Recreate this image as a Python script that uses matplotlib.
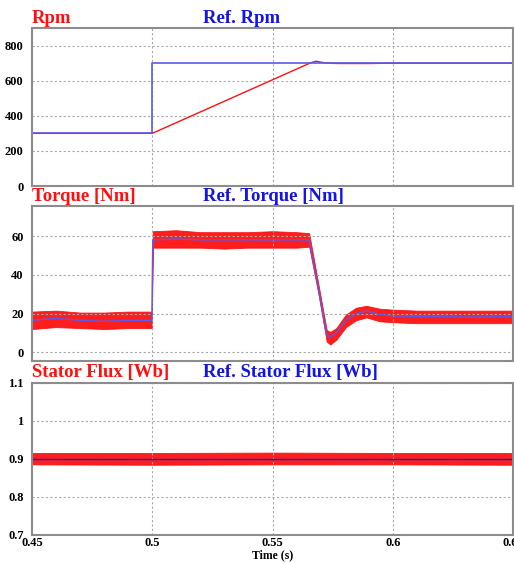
import matplotlib
matplotlib.use('Agg')
import matplotlib.pyplot as plt

# --- datos ---
t_rpm = [0.45, 0.4999, 0.5, 0.5655, 0.568, 0.5712, 0.5745, 0.5775, 0.59, 0.6, 0.65]
rpm = [300, 300, 300, 700, 711, 703, 699, 698, 698, 700, 700]
t_rpm_ref = [0.45, 0.5, 0.5, 0.65]
rpm_ref = [300, 300, 700, 700]

t_torque = [0.45, 0.46, 0.47, 0.48, 0.49, 0.4998, 0.5002, 0.51, 0.52, 0.53, 0.54,
            0.55, 0.56, 0.5652, 0.569, 0.5725, 0.574, 0.5765, 0.5805, 0.5847, 0.589,
            0.5945, 0.6, 0.61, 0.62, 0.63, 0.64, 0.65]
torque_ref = [16.5, 17.5, 16.5, 16.0, 16.5, 16.5, 58.0, 58.5, 58.0, 58.0, 58.0,
              58.0, 58.0, 58.0, 33.0, 9.0, 8.0, 10.0, 16.5, 20.0, 21.3,
              19.6, 18.8, 18.5, 18.5, 18.2, 18.3, 18.5]
torque_hi = [21.0, 21.5, 20.5, 20.5, 21.0, 21.0, 62.5, 63.0, 62.0, 62.0, 62.0,
             62.5, 62.0, 61.5, 35.5, 11.5, 10.5, 12.5, 19.5, 23.0, 24.0,
             22.5, 22.0, 21.5, 21.5, 21.5, 21.5, 21.5]
torque_lo = [12.0, 13.0, 12.5, 12.0, 12.5, 12.5, 54.0, 54.0, 54.0, 53.5, 54.0,
             54.0, 54.0, 54.5, 30.5, 5.5, 4.0, 6.5, 13.0, 16.5, 18.0,
             16.0, 15.5, 15.0, 15.0, 15.0, 15.0, 15.0]

t_flux = [0.45, 0.5, 0.55, 0.6, 0.65]
flux_ref = [0.9, 0.9, 0.9, 0.9, 0.9]
flux_hi = [0.915, 0.915, 0.916, 0.915, 0.915]
flux_lo = [0.885, 0.884, 0.885, 0.885, 0.884]

x_ticks = [0.45, 0.5, 0.55, 0.6, 0.65]
x_tick_labels = ['0.45', '0.5', '0.55', '0.6', '0.65']

ROJO = '#ff1010'
AZUL = '#1414e6'
AZUL_LINEA = '#5a5aee'
SERIF = ['Liberation Serif', 'DejaVu Serif']

fig = plt.figure(figsize=(5.14, 5.63), dpi=100)
ax1 = fig.add_axes([0.0623, 0.6696, 0.936, 0.2806])
ax2 = fig.add_axes([0.0623, 0.3588, 0.936, 0.2753])
ax3 = fig.add_axes([0.0623, 0.0503, 0.936, 0.2700])


def estilo(ax, yticks, ylabels, ylim, titulo_rojo, titulo_azul):
    ax.set_xlim(0.45, 0.65)
    ax.set_ylim(*ylim)
    ax.set_xticks(x_ticks)
    ax.set_yticks(yticks)
    ax.set_yticklabels(ylabels, family=SERIF, fontweight='bold', fontsize=9)
    ax.tick_params(length=0, pad=6)
    ax.grid(True, color='#a8a8a8', linestyle=(0, (2, 2)), linewidth=0.8)
    for s in ax.spines.values():
        s.set_color('#8c8c8c')
        s.set_linewidth(1.5)
    ax.text(0.0, 1.008, titulo_rojo, transform=ax.transAxes, color=ROJO,
            family=SERIF, fontweight='bold', fontsize=13.5, va='bottom', ha='left')
    ax.text(0.355, 1.008, titulo_azul, transform=ax.transAxes, color=AZUL,
            family=SERIF, fontweight='bold', fontsize=13.5, va='bottom', ha='left')


# --- Rpm ---
ax1.plot(t_rpm, rpm, color=ROJO, linewidth=1.0)
ax1.plot(t_rpm_ref, rpm_ref, color=AZUL_LINEA, linewidth=1.2)
estilo(ax1, [0, 200, 400, 600, 800], ['0', '200', '400', '600', '800'], (0, 900),
       'Rpm', 'Ref. Rpm')
ax1.set_xticklabels([])

# --- Par ---
ax2.fill_between(t_torque, torque_lo, torque_hi, color=ROJO, linewidth=0.6, alpha=0.95)
ax2.plot(t_torque, torque_ref, color=AZUL_LINEA, linewidth=1.0)
estilo(ax2, [0, 20, 40, 60], ['0', '20', '40', '60'], (-4.5, 75.5),
       'Torque [Nm]', 'Ref. Torque [Nm]')
ax2.set_xticklabels([])

# --- Flujo ---
ax3.fill_between(t_flux, flux_lo, flux_hi, color=ROJO, linewidth=0.6, alpha=0.95)
ax3.plot(t_flux, flux_ref, color=AZUL, linewidth=1.0)
estilo(ax3, [0.7, 0.8, 0.9, 1.0, 1.1], ['0.7', '0.8', '0.9', '1', '1.1'], (0.7, 1.1),
       'Stator Flux [Wb]', 'Ref. Stator Flux [Wb]')
ax3.set_xticklabels(x_tick_labels, family=SERIF, fontweight='bold', fontsize=9)
ax3.tick_params(axis='x', pad=2)
ax3.set_xlabel('Time (s)', family=SERIF, fontweight='bold', fontsize=8.5, labelpad=0)

fig.savefig('out.png', dpi=100)
